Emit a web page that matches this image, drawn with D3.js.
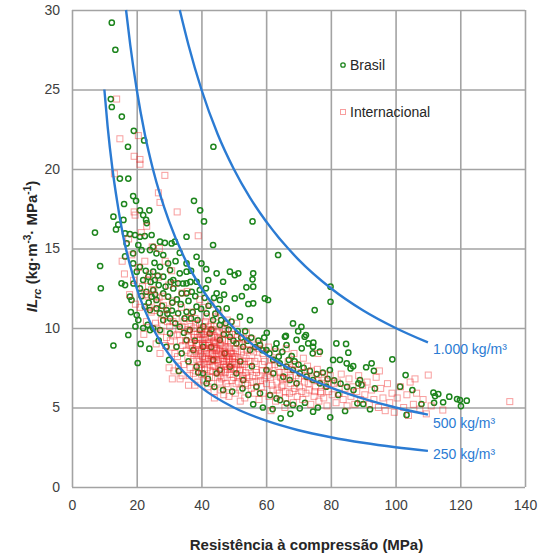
<!DOCTYPE html>
<html>
<head>
<meta charset="utf-8">
<script src="https://cdn.jsdelivr.net/npm/d3@7"></script>
<style>
  body { margin: 0; background: #fff; }
  text { font-family: 'Liberation Sans', Arial, sans-serif; }
</style>
</head>
<body>
<div id="chart"></div>
<script>
// tick values
const xTicks = [0, 20, 40, 60, 80, 100, 120, 140]
const yTicks = [0, 5, 10, 15, 20, 25, 30]

// Brasil  [MPa, IL]
const brasil = [
  [12.3, 29.2], [13.4, 27.5], [12.0, 24.4], [12.3, 23.9], [15.4, 23.3], [19.1, 22.4], [22.3, 21.8], [17.3, 21.4], [43.7, 21.4],
  [14.8, 19.4], [17.4, 19.4], [18.9, 18.3], [19.8, 18.0], [16.1, 17.8], [21.0, 17.4], [23.9, 17.4], [22.0, 17.1], [22.9, 16.8],
  [23.1, 16.6], [12.8, 17.0], [15.9, 16.8], [14.3, 16.5], [13.6, 16.2], [7.1, 16.0], [37.7, 18.0], [39.6, 17.4], [40.8, 16.7],
  [55.8, 16.7], [8.7, 13.9], [8.9, 12.5], [16.4, 14.5], [12.8, 8.9], [20.3, 7.8],
  [16.4, 15.95], [17.9, 15.91], [19.5, 15.85], [21.0, 15.74], [22.5, 15.78], [24.6, 15.85], [16.9, 15.32], [20.5, 15.22],
  [21.5, 14.9], [18.9, 14.69], [24.1, 14.9], [25.1, 15.11], [27.2, 15.43], [28.7, 15.36], [30.8, 15.32], [31.8, 15.43],
  [35.4, 15.74], [26.1, 14.69], [28.2, 14.59], [33.3, 14.73], [35.4, 14.06], [38.5, 14.48], [40.0, 14.06], [43.6, 15.22],
  [29.7, 14.06], [27.2, 13.85], [25.1, 13.54], [21.0, 13.85], [20.0, 13.54], [18.9, 14.06], [23.6, 13.23], [22.0, 13.02],
  [25.6, 13.02], [28.2, 13.23], [31.3, 13.02], [30.3, 13.64], [33.3, 13.44], [35.4, 13.54], [32.8, 12.81], [35.4, 12.81],
  [38.5, 12.91], [16.4, 12.7], [15.3, 12.81], [21.0, 12.49], [23.0, 12.28], [25.1, 12.39], [24.6, 11.97], [26.1, 11.76],
  [28.2, 12.18], [29.7, 11.97], [31.3, 12.49], [33.9, 12.18], [35.4, 12.18], [37.0, 12.28], [39.5, 12.39], [42.1, 13.02],
  [44.7, 13.44], [46.7, 12.91], [48.8, 13.54], [50.3, 13.33], [51.4, 13.44], [56.0, 13.44], [55.8, 13.06], [53.9, 12.56],
  [56.0, 12.6], [44.7, 12.18], [45.7, 11.76], [47.8, 11.23], [50.3, 11.86], [51.9, 10.71], [55.0, 10.5], [54.5, 11.51],
  [56.0, 11.55], [59.6, 11.86], [60.6, 11.76], [63.7, 14.59], [75.0, 11.13], [79.9, 12.6], [79.9, 11.65], [17.9, 11.97],
  [18.4, 11.76], [20.0, 10.81], [20.5, 10.5], [22.5, 11.34], [24.1, 11.13], [26.1, 11.23], [27.2, 10.92], [29.2, 11.13],
  [30.3, 10.6], [32.8, 10.92], [35.4, 11.02], [38.5, 11.34], [41.6, 10.92], [43.6, 10.5], [45.7, 10.19], [24.1, 9.87],
  [17.4, 9.56], [27.2, 9.87], [30.3, 9.66], [33.3, 10.08], [36.4, 9.87], [39.5, 9.87], [42.6, 9.66], [45.7, 9.24],
  [48.8, 9.45], [50.8, 9.03], [52.9, 8.82], [55.0, 8.61], [58.1, 8.93], [60.1, 8.61], [62.2, 7.99], [64.2, 7.78],
  [66.3, 7.57], [68.3, 7.36], [70.4, 7.15], [72.5, 6.94], [74.5, 6.73], [76.6, 6.52], [78.6, 6.31], [60.1, 7.36],
  [62.2, 7.15], [65.3, 6.94], [67.3, 6.73], [69.4, 6.52], [35.4, 9.24], [33.9, 8.41], [37.5, 8.61], [40.5, 8.82],
  [43.6, 7.99], [45.7, 7.36], [44.7, 7.15], [48.8, 7.57], [50.8, 7.15], [52.9, 6.73], [57.0, 6.31], [58.1, 5.89],
  [61.2, 5.78], [63.2, 5.57], [68.3, 5.16], [70.4, 4.95], [74.5, 4.74], [66.3, 5.26], [46.7, 6.1], [68.3, 10.29],
  [70.9, 10.08], [71.9, 9.45], [73.0, 9.03], [74.5, 8.82], [76.6, 8.51], [65.8, 9.45], [66.3, 8.93], [63.2, 9.03],
  [81.7, 9.03], [80.7, 7.99], [79.7, 7.36], [40.5, 7.15], [38.5, 7.57], [41.6, 6.52], [29.2, 8.82], [32.3, 8.82],
  [25.1, 9.98], [28.2, 10.5], [66.1, 9.5], [69.9, 9.8], [72.3, 9.56], [74.6, 9.08], [71.0, 8.72], [74.4, 8.41],
  [67.9, 8.24], [69.4, 9.25], [60.2, 9.7], [31.0, 11.6], [36.8, 10.6], [41.0, 11.9], [34.6, 9.7], [38.0, 9.2],
  [43.0, 8.8], [47.2, 8.4], [52.0, 7.9], [55.6, 7.6], [30.5, 12.9], [26.8, 12.7], [23.4, 10.2], [19.0, 12.8],
  [84.7, 9.0], [85.4, 8.45], [82.8, 8.0], [84.9, 7.78], [86.9, 7.6], [86.1, 7.46], [90.9, 7.53], [92.6, 7.78],
  [93.3, 7.31], [89.0, 6.73], [88.5, 6.52], [89.5, 6.42], [82.3, 5.79], [84.4, 4.78], [79.8, 4.38], [64.5, 4.32],
  [64.3, 5.47], [52.7, 6.2], [92.1, 4.89], [88.2, 5.26], [90.0, 5.22], [93.6, 6.2],
  [99.0, 8.03], [103.1, 7.04], [101.4, 6.31], [105.2, 6.1], [111.7, 5.93], [113.2, 5.85], [112.2, 5.72], [116.6, 5.68],
  [119.0, 5.53], [119.9, 5.47], [122.0, 5.43], [120.2, 5.09], [114.7, 5.33], [111.9, 5.3], [108.0, 5.22], [103.4, 4.53],
  [21.5, 12.0], [22.8, 13.6], [23.7, 11.6], [24.3, 12.9], [25.7, 12.1], [26.5, 13.3], [27.8, 11.4], [28.9, 12.6],
  [29.5, 10.9], [30.9, 11.1], [31.9, 10.3], [32.4, 11.8], [33.6, 11.5], [34.3, 12.8], [34.8, 10.6], [36.0, 11.7],
  [36.6, 12.9], [37.3, 11.0], [38.1, 12.0], [38.8, 10.5], [39.9, 11.2], [40.6, 10.1], [41.4, 12.5], [42.2, 11.4],
  [43.1, 9.9], [43.9, 11.9], [44.3, 10.9], [45.2, 11.2], [46.1, 10.5], [46.9, 9.6], [47.5, 10.3], [48.4, 9.9],
  [49.3, 10.4], [49.9, 9.2], [51.2, 9.8], [52.3, 9.4], [53.5, 9.8], [54.2, 9.2], [55.4, 9.4], [56.6, 8.8],
  [57.6, 9.2], [58.9, 8.6], [59.4, 9.4], [61.0, 8.4], [62.8, 8.7], [63.9, 8.2], [65.0, 8.5], [67.0, 8.0],
  [68.8, 7.9], [70.0, 7.7], [71.6, 7.5], [73.5, 7.3], [75.6, 7.1], [77.5, 7.2], [79.0, 6.8], [81.0, 6.7],
  [83.0, 6.5], [85.0, 6.3], [87.0, 6.1], [30.0, 8.0], [33.0, 7.3], [36.0, 7.9], [39.0, 7.2], [42.0, 6.8],
  [44.0, 6.3], [49.5, 6.0], [54.5, 5.8], [56.0, 5.2], [59.0, 5.0], [62.0, 4.9], [67.5, 4.6], [72.0, 5.3],
  [76.0, 5.0], [22.0, 10.0], [21.2, 9.0], [23.9, 8.7], [26.8, 9.2], [19.6, 10.1], [18.2, 11.0], [25.5, 14.1],
  [32.0, 14.2], [36.8, 13.6], [41.5, 13.7], [47.0, 12.1], [52.5, 12.0]
]

// Internacional  [MPa, IL]
const internacional = [
  [13.8, 24.4], [14.8, 21.9], [19.2, 20.8], [21.0, 20.6], [21.0, 20.3], [20.5, 22.1], [13.1, 19.7], [28.7, 19.6],
  [26.7, 18.5], [27.2, 17.9], [32.5, 17.3], [39.0, 15.8], [23.1, 16.4], [19.5, 17.1], [19.2, 17.3],
  [16.2, 13.4], [17.5, 15.6], [18.5, 14.6], [19.0, 13.0], [17.8, 12.1], [19.6, 11.5], [15.5, 14.2],
  [20.5, 13.8], [21.0, 11.3], [21.8, 12.6], [22.5, 14.2], [23.0, 10.4], [23.5, 12.0], [24.0, 13.4], [24.5, 11.0],
  [22.2, 9.6], [24.8, 15.1], [21.4, 16.0],
  [25.3, 12.4], [25.8, 10.3], [26.3, 11.6], [26.8, 13.2], [27.2, 8.4], [27.5, 9.8], [28.0, 12.0], [28.4, 10.8],
  [28.8, 14.2], [29.2, 9.4], [29.6, 11.2], [27.0, 15.0], [26.0, 9.0], [29.9, 12.7],
  [30.2, 10.1], [30.6, 8.8], [31.0, 11.7], [31.4, 9.5], [31.8, 12.8], [32.2, 10.6], [32.6, 8.2], [33.0, 9.9],
  [33.4, 6.8], [33.8, 11.3], [34.2, 8.9], [34.6, 10.4], [30.8, 13.6], [32.9, 7.6], [34.0, 12.2], [31.5, 7.3],
  [35.1, 9.2], [35.4, 10.6], [35.8, 8.1], [36.2, 9.8], [36.5, 7.5], [36.9, 11.0], [37.2, 8.7], [37.5, 7.15],
  [37.9, 9.4], [38.2, 10.2], [38.6, 8.0], [38.9, 6.6], [39.2, 9.0], [39.5, 11.8], [39.8, 7.7], [35.6, 12.3],
  [36.7, 8.4], [37.7, 10.0], [38.4, 8.9], [39.6, 8.4],
  [40.1, 9.6], [40.3, 8.2], [40.6, 6.73], [40.8, 9.0], [41.0, 7.4], [41.3, 10.4], [41.5, 8.6], [41.8, 9.3],
  [42.0, 7.9], [42.3, 8.9], [42.5, 6.9], [42.8, 9.8], [43.0, 8.3], [43.2, 6.5], [43.5, 7.6], [43.7, 9.1],
  [44.0, 8.0], [44.3, 10.7], [44.5, 7.2], [44.8, 8.7], [40.5, 11.3], [41.7, 7.0], [42.9, 11.5], [44.1, 9.5],
  [43.9, 6.0], [42.2, 10.1], [40.9, 8.7], [41.2, 9.9], [43.4, 8.4], [44.6, 8.0],
  [45.1, 7.8], [45.3, 9.3], [45.6, 6.6], [45.9, 8.5], [46.2, 7.3], [46.4, 10.0], [46.7, 8.1], [47.0, 6.9],
  [47.3, 8.8], [47.6, 7.6], [47.9, 9.6], [48.2, 6.3], [48.5, 8.2], [48.8, 7.1], [49.1, 9.0], [49.4, 6.7],
  [49.7, 7.9], [45.4, 11.0], [46.9, 5.8], [48.0, 10.5], [49.2, 8.4], [45.8, 7.0], [47.4, 7.2], [48.6, 7.7],
  [50.1, 7.4], [50.4, 8.7], [50.7, 6.5], [51.0, 9.4], [51.3, 7.0], [51.6, 8.0], [51.9, 6.1], [52.2, 7.7],
  [52.5, 9.0], [52.8, 6.8], [53.1, 8.3], [53.4, 5.6], [53.7, 7.2], [54.0, 8.6], [54.3, 6.4], [54.6, 7.5],
  [50.9, 10.3], [52.0, 5.4], [53.9, 9.7], [54.8, 6.9],
  [55.1, 7.9], [55.4, 6.2], [55.8, 7.0], [56.1, 8.5], [56.4, 5.9], [56.8, 7.4], [57.1, 6.6], [57.4, 8.1],
  [57.8, 5.5], [58.1, 7.0], [58.5, 6.3], [58.8, 7.7], [59.2, 5.9], [59.6, 6.8], [55.6, 9.3], [57.9, 9.0], [59.0, 8.4],
  [60.1, 6.5], [60.5, 7.3], [60.9, 5.7], [61.3, 6.9], [61.7, 8.0], [62.1, 6.1], [62.5, 7.1], [62.9, 5.4],
  [63.3, 6.6], [63.7, 7.6], [64.1, 5.9], [64.5, 6.9], [60.7, 8.8], [63.0, 8.5], [64.8, 6.3], [61.5, 4.8],
  [65.2, 6.4], [65.6, 7.2], [66.0, 5.6], [66.4, 6.8], [66.8, 7.9], [67.2, 5.9], [67.6, 6.5], [68.0, 7.4],
  [68.4, 5.3], [68.8, 6.2], [69.2, 7.0], [69.6, 5.7], [66.2, 8.7], [68.6, 8.4], [65.8, 5.0],
  [70.3, 6.3], [70.8, 7.2], [71.3, 5.5], [71.8, 6.6], [72.3, 5.9], [72.8, 7.6], [73.3, 6.1], [73.8, 5.2],
  [74.3, 6.8], [74.8, 5.7], [75.3, 6.3], [75.8, 7.4], [76.3, 5.4], [76.8, 6.0], [77.3, 6.9], [77.8, 5.6],
  [78.3, 6.4], [78.8, 5.1], [79.3, 6.0], [79.8, 7.0], [71.5, 8.1], [76.0, 8.4],
  [80.4, 5.8], [81.0, 6.5], [81.6, 5.3], [82.0, 6.6], [82.6, 5.9], [83.2, 7.1], [83.8, 5.5], [84.4, 6.2],
  [85.0, 5.1], [85.6, 6.8], [86.2, 5.7], [86.8, 6.3], [87.4, 5.2], [88.0, 6.0], [88.6, 7.0], [89.2, 5.5], [89.8, 6.4],
  [90.5, 5.8], [91.2, 6.6], [91.9, 5.2], [92.6, 6.1], [93.3, 5.5], [94.0, 6.9], [94.7, 5.0], [95.4, 6.2],
  [96.1, 5.6], [96.8, 4.8], [97.5, 6.5], [98.2, 5.3], [98.9, 5.9], [99.6, 4.7], [95.0, 7.3],
  [100.5, 5.6], [101.5, 6.3], [102.5, 5.0], [103.5, 5.8], [104.5, 6.6], [105.5, 5.2], [106.5, 5.9], [107.5, 4.9],
  [108.5, 5.5], [109.5, 4.6], [110.1, 7.04], [111.0, 5.1], [104.0, 4.5], [106.0, 6.8], [114.6, 4.84], [135.3, 5.37],
  [35.3, 8.6], [35.9, 9.5], [36.3, 7.0], [36.8, 10.1], [37.0, 9.1], [37.4, 7.9], [37.8, 8.4], [38.0, 10.6],
  [38.3, 7.3], [38.7, 9.6], [39.0, 8.3], [39.4, 10.3], [39.7, 9.3], [40.0, 7.1], [40.2, 10.0], [40.4, 8.9],
  [40.7, 7.8], [41.1, 9.4], [41.4, 8.1], [41.6, 10.7], [41.9, 7.5], [42.1, 9.1], [42.4, 8.4], [42.7, 7.3],
  [42.9, 10.2], [43.1, 9.4], [43.3, 7.9], [43.6, 8.8], [43.8, 10.1], [44.2, 7.6], [44.4, 9.0], [44.7, 8.3],
  [44.9, 9.8], [45.0, 6.9], [45.2, 8.4], [45.5, 9.7], [45.7, 7.5], [46.0, 8.9], [46.3, 6.8], [46.5, 9.3],
  [46.8, 7.7], [47.1, 8.5], [47.4, 9.9], [47.7, 6.5], [47.8, 8.2], [48.1, 7.4], [48.3, 9.2], [48.7, 8.7],
  [49.0, 7.5], [49.3, 9.6], [49.6, 8.1], [49.9, 6.9], [50.2, 8.2], [50.5, 9.6], [50.8, 7.7], [51.1, 8.5],
  [51.4, 6.6], [51.7, 9.0], [52.0, 7.4], [52.4, 8.5], [52.7, 7.0], [53.0, 9.3], [53.3, 7.7], [53.6, 6.5],
  [53.8, 8.1], [54.1, 7.0], [54.4, 9.0], [54.7, 7.9], [33.5, 9.2], [34.0, 10.1], [34.5, 7.7], [32.5, 9.6],
  [31.8, 8.4], [31.2, 10.4], [30.4, 9.2], [29.5, 10.4], [28.9, 8.9], [28.3, 11.4], [27.6, 10.5], [26.9, 11.9],
  [26.2, 10.0], [25.4, 11.1], [24.6, 12.4], [23.8, 11.3], [23.3, 13.0], [22.6, 12.1], [55.3, 8.6], [55.9, 6.6],
  [56.5, 7.9], [57.0, 7.2], [57.6, 8.7], [58.3, 6.7], [58.9, 7.3], [59.5, 7.9], [60.3, 7.0], [61.0, 7.6],
  [61.8, 6.4], [62.6, 7.7], [63.4, 6.1], [64.2, 7.2], [65.0, 6.8], [65.9, 6.0], [66.7, 7.4], [67.5, 6.9],
  [68.3, 6.0], [69.1, 7.7], [70.0, 6.8], [71.0, 6.0], [72.0, 7.0], [73.0, 6.5], [74.0, 7.3], [75.0, 6.0],
  [76.0, 6.7], [77.0, 5.9], [78.0, 7.1], [79.0, 6.5], [42.0, 6.3], [44.0, 5.6], [46.0, 6.1], [48.5, 5.7],
  [50.5, 5.9], [38.0, 6.4], [36.0, 6.4], [34.0, 7.0], [30.0, 7.5], [31.0, 6.8],
  [38.5, 9.0], [39.1, 8.6], [39.8, 9.8], [40.4, 9.3], [40.9, 8.0], [41.3, 8.9], [41.8, 9.8], [42.2, 8.1],
  [42.6, 9.5], [43.0, 8.7], [43.4, 9.9], [43.8, 8.2], [44.2, 9.2], [44.6, 8.6], [45.0, 9.4], [45.4, 8.0],
  [45.8, 9.0], [46.2, 8.3], [46.6, 8.7], [47.0, 7.9], [47.4, 8.4], [47.8, 7.9], [48.2, 8.8], [48.6, 8.0],
  [49.0, 8.5], [49.4, 7.7], [49.8, 8.4], [50.2, 7.8], [50.6, 8.2], [51.0, 7.5], [38.9, 9.4], [39.5, 7.9],
  [40.1, 8.5], [40.8, 9.6], [41.6, 8.4], [42.4, 9.0], [43.2, 8.0], [44.0, 8.8], [44.8, 9.1], [45.6, 8.6],
  [46.4, 7.9], [47.2, 9.2], [48.0, 8.3], [48.8, 7.4], [36.8, 9.0], [37.6, 9.6], [38.2, 8.5], [35.8, 9.9],
  [36.4, 8.9], [39.3, 7.5], [41.0, 7.7], [43.5, 7.3], [46.0, 7.4], [51.8, 7.3], [52.6, 7.9]
]

// consumo de cimento (kg/m3) curves
const curve1000 = [[33.3, 30], [36, 27.8], [40, 25], [45, 22.2], [50, 20], [55, 18.2], [60, 16.7], [70, 14.3],
  [80, 12.5], [90, 11.1], [100, 10], [110, 9.09]]
const curve500 = [[16.7, 30], [18, 27.8], [20, 25], [22.5, 22.2], [25, 20], [30, 16.7], [35, 14.3], [40, 12.5],
  [50, 10], [60, 8.33], [70, 7.14], [80, 6.25], [90, 5.56], [100, 5], [110, 4.55]]
const curve250 = [[10, 25], [11, 22.7], [12.5, 20], [14, 17.9], [16, 15.6], [18, 13.9], [20, 12.5], [25, 10],
  [30, 8.33], [35, 7.14], [40, 6.25], [50, 5], [60, 4.17], [70, 3.57], [80, 3.13], [90, 2.78], [100, 2.5], [110, 2.27]]
const curveLabels = ['1.000 kg/m³', '500 kg/m³', '250 kg/m³']

const margin = { top: 10, right: 13, bottom: 72, left: 72 }
const width = 538 - margin.left - margin.right
const height = 559 - margin.top - margin.bottom

const blue = '#2b7bd3'
const grid = '#a3a3a3'

const svg = d3
  .select('#chart')
  .append('svg')
  .attr('width', width + margin.left + margin.right)
  .attr('height', height + margin.top + margin.bottom)
  .append('g')
  .attr('transform', 'translate(' + margin.left + ',' + margin.top + ')')

const xPositionScale = d3.scaleLinear().domain([0, 140]).range([0, width])
const yPositionScale = d3.scaleLinear().domain([0, 30]).range([height, 0])

/* grid + axes */
const xAxis = d3.axisBottom(xPositionScale).tickValues(xTicks).tickSize(-height).tickPadding(13)
svg
  .append('g')
  .attr('class', 'axis x-axis')
  .attr('transform', 'translate(0,' + height + ')')
  .call(xAxis)

const yAxis = d3.axisLeft(yPositionScale).tickValues(yTicks).tickSize(-width).tickPadding(12)
svg
  .append('g')
  .attr('class', 'axis y-axis')
  .call(yAxis)

svg.selectAll('.axis .domain').remove()
svg.selectAll('.axis .tick line').attr('stroke', grid).attr('stroke-width', 1.6)
svg.selectAll('.axis .tick text')
  .style('font-size', '14px')
  .style('font-family', "'Liberation Sans', Arial, sans-serif")
  .attr('fill', '#404040')

/* data points */
svg
  .append('g')
  .selectAll('circle')
  .data(brasil)
  .enter()
  .append('circle')
  .attr('cx', d => xPositionScale(d[0]))
  .attr('cy', d => yPositionScale(d[1]))
  .attr('r', 2.6)
  .attr('fill', 'none')
  .attr('stroke', '#1d851d')
  .attr('stroke-width', 1.5)

svg
  .append('g')
  .selectAll('rect')
  .data(internacional)
  .enter()
  .append('rect')
  .attr('x', d => xPositionScale(d[0]) - 3)
  .attr('y', d => yPositionScale(d[1]) - 3)
  .attr('width', 6)
  .attr('height', 6)
  .attr('fill', 'none')
  .attr('stroke', '#f02828')
  .attr('stroke-opacity', 0.45)
  .attr('stroke-width', 1)

/* curves */
const line = d3
  .line()
  .x(d => xPositionScale(d[0]))
  .y(d => yPositionScale(d[1]))
  .curve(d3.curveMonotoneX)

const curves = [curve1000, curve500, curve250]
svg
  .append('g')
  .selectAll('path')
  .data(curves)
  .enter()
  .append('path')
  .attr('d', line)
  .attr('fill', 'none')
  .attr('stroke', blue)
  .attr('stroke-width', 2.4)

svg
  .append('g')
  .selectAll('text')
  .data(curves)
  .enter()
  .append('text')
  .attr('x', d => xPositionScale(d[d.length - 1][0]) + 5)
  .attr('y', (d, i) => yPositionScale(d[d.length - 1][1]) + [12, 13, 8][i])
  .attr('fill', blue)
  .style('font-size', '14px')
  .text((d, i) => curveLabels[i])

/* legend */
const legend = svg.append('g').attr('transform', 'translate(271,55)')
legend.append('circle').attr('cx', 0).attr('cy', 0).attr('r', 2.2)
  .attr('fill', 'none').attr('stroke', '#1d851d').attr('stroke-width', 1.3)
legend.append('text').attr('x', 7).attr('y', 5).style('font-size', '14px').attr('fill', '#262626').text('Brasil')
legend.append('rect').attr('x', -2.5).attr('y', 44.5).attr('width', 5).attr('height', 5)
  .attr('fill', 'none').attr('stroke', '#f02828').attr('stroke-opacity', 0.45)
legend.append('text').attr('x', 7).attr('y', 52).style('font-size', '14px').attr('fill', '#262626').text('Internacional')

/* axis titles */
svg.append('text')
  .attr('x', width / 2 + 8)
  .attr('y', height + 63)
  .attr('text-anchor', 'middle')
  .style('font-size', '15px')
  .style('font-weight', 'bold')
  .attr('fill', '#262626')
  .text('Resistência à compressão (MPa)')

const yTitle = svg.append('text')
  .attr('transform', 'translate(-35,' + (height / 2 - 2) + ') rotate(-90)')
  .attr('text-anchor', 'middle')
  .style('font-size', '15px')
  .style('font-weight', 'bold')
  .attr('fill', '#262626')
yTitle.append('tspan').style('font-style', 'italic').text('IL')
yTitle.append('tspan').style('font-style', 'italic').style('font-size', '11px').attr('dy', 4).text('rc')
yTitle.append('tspan').attr('dy', -4).text(' (kg·m')
yTitle.append('tspan').style('font-size', '10px').attr('dy', -6).text('-3')
yTitle.append('tspan').attr('dy', 6).text('· MPa')
yTitle.append('tspan').style('font-size', '10px').attr('dy', -6).text('-1')
yTitle.append('tspan').attr('dy', 6).text(')')
</script>
</body>
</html>
